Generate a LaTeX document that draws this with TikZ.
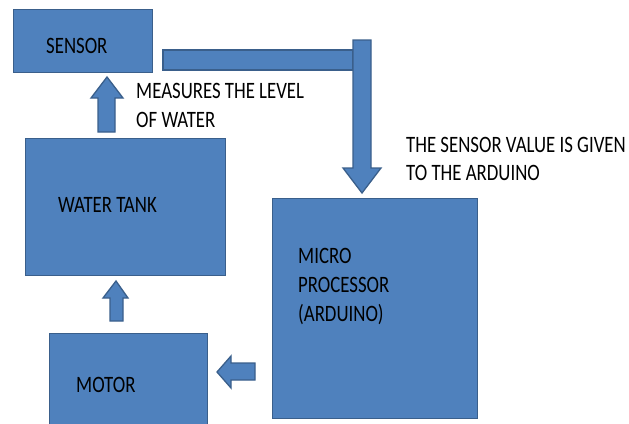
\documentclass[tikz,border=0pt]{standalone}
\usepackage{fontspec}
\setmainfont[FakeStretch=0.8]{Carlito}
\definecolor{boxfill}{HTML}{4F81BD}
\definecolor{boxline}{HTML}{3A5F8B}
\tikzset{
  blk/.style={draw=boxline, fill=boxfill, line width=1.3pt, inner sep=0pt, anchor=north west},
  arr/.style={draw=boxline, fill=boxfill, line width=1.3pt, line join=miter},
  lbl/.style={inner sep=0pt, anchor=base west, font=\fontsize{23.5}{29}\selectfont, text=black},
}
\begin{document}
\begin{tikzpicture}[x=1pt,y=-1pt]
\useasboundingbox (0,0) rectangle (629,423);
\clip (0,0) rectangle (629,423);
% boxes
\node[blk, minimum width=139pt, minimum height=63pt] (sensor) at (13,9) {};
\node[blk, minimum width=200pt, minimum height=137pt] (tank) at (25,138) {};
\node[blk, minimum width=158pt, minimum height=120pt] (motor) at (49,333) {};
\node[blk, minimum width=205pt, minimum height=220pt] (micro) at (272,198) {};
% block arrows
\draw[arr] (163,50) rectangle (353,70);
\draw[arr] (353,40) -- (371,40) -- (371,168) -- (381,168) -- (362,193) -- (343,168) -- (353,168) -- cycle;
\draw[arr] (98,132) -- (98,98) -- (91,98) -- (107,77) -- (123,98) -- (115,98) -- (115,132) -- cycle;
\draw[arr] (110,321) -- (110,298) -- (103,298) -- (116,281) -- (128,298) -- (123,298) -- (123,321) -- cycle;
\draw[arr] (255,363) -- (231,363) -- (231,356) -- (217,372) -- (231,388) -- (231,380) -- (255,380) -- cycle;
% labels
\node[lbl] (tsensor) at (46,53) {SENSOR};
\node[lbl] (ttank) at (58,212) {WATER TANK};
\node[lbl] (tmotor) at (76,392) {MOTOR};
\node[lbl] (tmicro1) at (298,263) {MICRO};
\node[lbl] (tmicro2) at (298,292) {PROCESSOR};
\node[lbl] (tmicro3) at (298,321) {(ARDUINO)};
\node[lbl] (tmeas1) at (136,98) {MEASURES THE LEVEL};
\node[lbl] (tmeas2) at (136,127) {OF WATER};
\node[lbl] (tval1) at (406,152) {THE SENSOR VALUE IS GIVEN};
\node[lbl] (tval2) at (406,180) {TO THE ARDUINO};
\end{tikzpicture}
\end{document}
